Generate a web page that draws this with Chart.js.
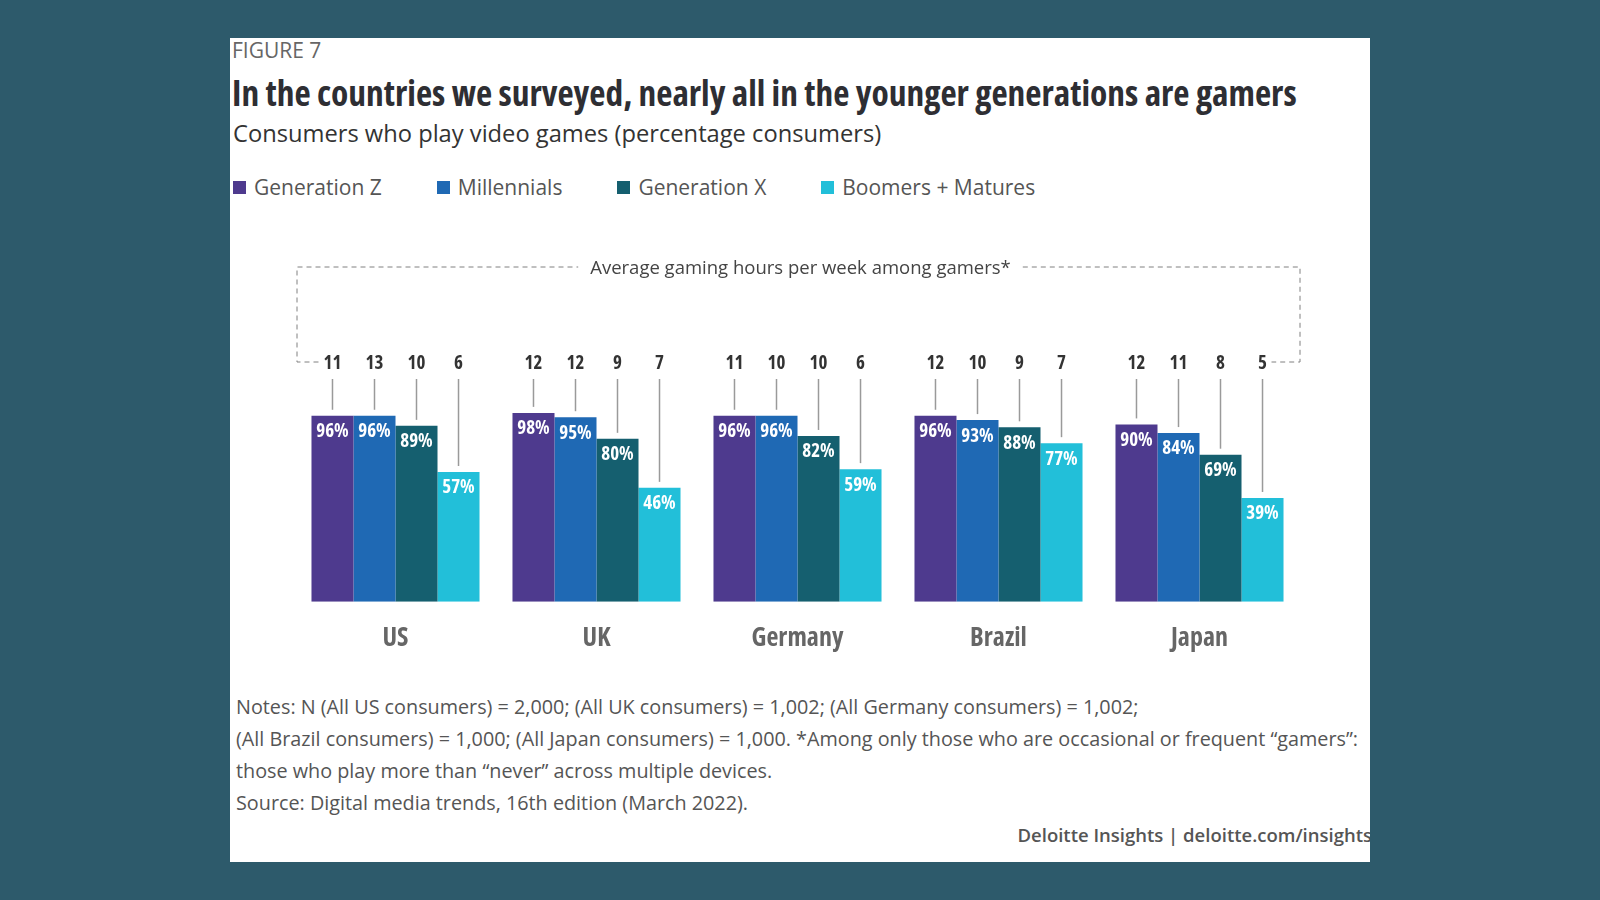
<!DOCTYPE html>
<html>
<head>
<meta charset="utf-8">
<script src="https://cdn.jsdelivr.net/npm/chart.js@4"></script>
<style>
  body { margin: 0; width: 1600px; height: 900px; background: #2d5a6b; overflow: hidden; font-family: "Open Sans", sans-serif; }
  #card { position: absolute; left: 230px; top: 38px; width: 1140px; height: 824px; background: #fff; overflow: hidden; }
  .t { position: absolute; white-space: nowrap; line-height: 1; }
  #fig { left: 2px; top: 2px; font-size: 21px; color: #666; }
  #title { left: 2px; top: 37px; font-size: 35.4px; font-weight: 700; font-stretch: 75%; color: #2e2e33; }
  #sub { left: 3px; top: 84px; font-size: 23.7px; color: #333; }
  #legend { left: 3px; top: 139px; font-size: 21px; color: #555; display: flex; }
  #legend span.item { display: flex; align-items: center; margin-right: 55px; }
  #legend span.box { width: 13px; height: 13px; margin-right: 8px; display: inline-block; }
  #notes { left: 6px; top: 653px; font-size: 19.8px; line-height: 32px; color: #555; }
  #credit { right: -2px; top: 788px; font-size: 18.5px; font-weight: 600; color: #555; }
  canvas { position: absolute; left: 0; top: 162px; }
</style>
</head>
<body>
<div id="card">
  <div class="t" id="fig">FIGURE 7</div>
  <div class="t" id="title">In the countries we surveyed, nearly all in the younger generations are gamers</div>
  <div class="t" id="sub">Consumers who play video games (percentage consumers)</div>
  <div class="t" id="legend"></div>
  <canvas id="chart" width="1140" height="485"></canvas>
  <div class="t" id="notes">Notes: N (All US consumers) = 2,000; (All UK consumers) = 1,002; (All Germany consumers) = 1,002;<br>(All Brazil consumers) = 1,000; (All Japan consumers) = 1,000. *Among only those who are occasional or frequent “gamers”:<br>those who play more than “never” across multiple devices.<br>Source: Digital media trends, 16th edition (March 2022).</div>
  <div class="t" id="credit">Deloitte Insights | deloitte.com/insights</div>
</div>
<script>
// data
const categories = ['US', 'UK', 'Germany', 'Brazil', 'Japan'];
const seriesNames = ['Generation Z', 'Millennials', 'Generation X', 'Boomers + Matures'];
const genZ = [96, 98, 96, 96, 90];
const millennials = [96, 95, 96, 93, 84];
const genX = [89, 80, 82, 88, 69];
const boomers = [57, 46, 59, 77, 39];
// average gaming hours per week among gamers
const hoursGenZ = [11, 12, 11, 12, 12];
const hoursMillennials = [13, 12, 10, 10, 11];
const hoursGenX = [10, 9, 10, 9, 8];
const hoursBoomers = [6, 7, 6, 7, 5];
const colors = ['#4e3a8e', '#1f69b4', '#155f6f', '#22bfd9'];

const allValues = [genZ, millennials, genX, boomers];
const allHours = [hoursGenZ, hoursMillennials, hoursGenX, hoursBoomers];
const axisFloor = -33;

// legend
const legend = document.getElementById('legend');
seriesNames.forEach(function(name, i) {
  const item = document.createElement('span');
  item.className = 'item';
  item.innerHTML = '<span class="box" style="background:' + colors[i] + '"></span>' + name;
  legend.appendChild(item);
});

const labelPlugin = {
  id: 'barLabels',
  afterDatasetsDraw(chart) {
    const ctx = chart.ctx;
    const area = chart.chartArea;
    const hoursY = area.top - 46;
    ctx.save();
    ctx.textAlign = 'center';
    ctx.textBaseline = 'middle';
    chart.data.datasets.forEach(function(ds, i) {
      const meta = chart.getDatasetMeta(i);
      meta.data.forEach(function(bar, j) {
        // percentage inside bar
        ctx.font = 'bold 19px "Open Sans", sans-serif';
        ctx.fontStretch = 'condensed';
        ctx.fillStyle = '#fff';
        ctx.fillText(ds.data[j] + '%', bar.x, bar.y + 16);
        // hours above
        ctx.fillStyle = '#333';
        ctx.fillText(String(allHours[i][j]), bar.x, hoursY);
        ctx.strokeStyle = '#9a9a9a';
        ctx.lineWidth = 1.5;
        ctx.beginPath();
        ctx.moveTo(bar.x, area.top - 31);
        ctx.lineTo(bar.x, bar.y - 6);
        ctx.stroke();
      });
    });

    // dashed bracket with caption
    const first = chart.getDatasetMeta(0).data[0];
    const last = chart.getDatasetMeta(3).data[categories.length - 1];
    const left = area.left + 2, right = area.right;
    const top = area.top - 143, bottom = area.top - 48;
    const cx = (area.left + area.right) / 2 + 3;
    const caption = 'Average gaming hours per week among gamers*';
    ctx.font = '18.5px "Open Sans", sans-serif';
    ctx.fontStretch = 'normal';
    const tw = ctx.measureText(caption).width;
    ctx.fillStyle = '#444';
    ctx.fillText(caption, cx, top + 2);
    ctx.strokeStyle = '#808080';
    ctx.lineWidth = 1;
    ctx.setLineDash([5, 4]);
    ctx.beginPath();
    ctx.moveTo(first.x - 14, bottom);
    ctx.lineTo(left, bottom);
    ctx.lineTo(left, top);
    ctx.lineTo(cx - tw / 2 - 12, top);
    ctx.moveTo(cx + tw / 2 + 12, top);
    ctx.lineTo(right, top);
    ctx.lineTo(right, bottom);
    ctx.lineTo(last.x + 9, bottom);
    ctx.stroke();
    ctx.restore();
  }
};

new Chart(document.getElementById('chart').getContext('2d'), {
  type: 'bar',
  data: {
    labels: categories,
    datasets: allValues.map(function(vals, i) {
      return {
        label: seriesNames[i],
        data: vals,
        backgroundColor: colors[i],
        base: axisFloor,
        barPercentage: 1,
        categoryPercentage: 0.836
      };
    })
  },
  options: {
    responsive: false,
    animation: false,
    layout: { padding: { left: 65, right: 70, top: 210, bottom: 10 } },
    plugins: { legend: { display: false }, tooltip: { enabled: false } },
    scales: {
      x: {
        grid: { display: false, drawTicks: false },
        border: { display: false },
        ticks: {
          color: '#666',
          padding: 21,
          font: { family: '"Open Sans", sans-serif', size: 26, weight: '700 condensed', lineHeight: 1.2 }
        }
      },
      y: { display: false, min: axisFloor, max: 100 }
    }
  },
  plugins: [labelPlugin]
});
</script>
</body>
</html>
